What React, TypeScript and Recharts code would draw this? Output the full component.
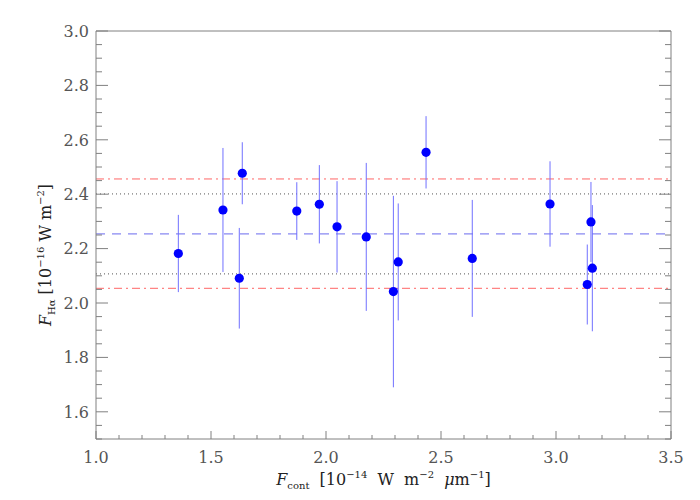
import React from 'react';
import { ScatterChart, Scatter, XAxis, YAxis, ErrorBar, ReferenceLine, Label } from 'recharts';

// continuum flux (x) and H-alpha flux (y) with 1-sigma errors
const fCont = [1.358, 1.552, 1.623, 1.636, 1.873, 1.971, 2.048, 2.175, 2.293, 2.314, 2.435, 2.636, 2.974, 3.152, 3.158, 3.136];
const fHa = [2.182, 2.342, 2.091, 2.477, 2.338, 2.363, 2.28, 2.243, 2.042, 2.151, 2.554, 2.164, 2.364, 2.298, 2.128, 2.068];
const fHaErr = [0.142, 0.228, 0.185, 0.114, 0.106, 0.144, 0.168, 0.272, 0.352, 0.215, 0.133, 0.215, 0.157, 0.147, 0.232, 0.147];

const xMajor = [1.0, 1.5, 2.0, 2.5, 3.0, 3.5];
const yMajor = [1.6, 1.8, 2.0, 2.2, 2.4, 2.6, 2.8, 3.0];
const xDomain = [1.0, 3.5];
const yDomain = [1.5, 3.0];
const xMinorStep = 0.1;
const yMinorStep = 0.05;

const meanLevel = 2.254;
const sigmaLow = 2.107;
const sigmaHigh = 2.401;
const boundLow = 2.054;
const boundHigh = 2.456;

const points = fCont.map((x, i) => ({ x, y: fHa[i], err: fHaErr[i] }));

const makeTicks = (lo: number, hi: number, step: number) => {
  const n = Math.round((hi - lo) / step);
  const out: number[] = [];
  for (let i = 0; i <= n; i++) out.push(+(lo + i * step).toFixed(3));
  return out;
};
const xTicks = makeTicks(xDomain[0], xDomain[1], xMinorStep);
const yTicks = makeTicks(yDomain[0], yDomain[1], yMinorStep);

const isMajor = (v: number, majors: number[]) => majors.some((m) => Math.abs(m - v) < 1e-6);

const AXIS = '#808080';
const SERIF = '"DejaVu Serif", "Liberation Serif", serif';
const GAP = 10;
const RED = '#ff6666';

const AxisTick = (props: any) => {
  const { x, y, payload, side } = props;
  const v = payload.value;
  if (side === 'bottom' || side === 'top') {
    const major = isMajor(v, xMajor);
    const len = major ? 8 : 4;
    const axisY = side === 'bottom' ? y - GAP : y + GAP;
    const dir = side === 'bottom' ? -1 : 1;
    return (
      <g>
        <line x1={x} y1={axisY} x2={x} y2={axisY + dir * len} stroke={AXIS} strokeWidth={1} />
        {side === 'bottom' && major && (
          <text x={x} y={y + 3} dy="0.71em" textAnchor="middle" fontFamily={SERIF} fontSize={16} fill="#555">
            {v.toFixed(1)}
          </text>
        )}
      </g>
    );
  }
  const major = isMajor(v, yMajor);
  const len = major ? 12 : 6;
  const axisX = side === 'left' ? x + 7 : x - GAP;
  const dir = side === 'left' ? 1 : -1;
  return (
    <g>
      <line x1={axisX} y1={y} x2={axisX + dir * len} y2={y} stroke={AXIS} strokeWidth={1} />
      {side === 'left' && major && (
        <text x={x} y={y} dy="0.36em" textAnchor="end" fontFamily={SERIF} fontSize={16} fill="#555">
          {v.toFixed(1)}
        </text>
      )}
    </g>
  );
};

const XTitle = (props: any) => {
  const { x, y, width } = props.viewBox;
  return (
    <text
      x={x + width / 2}
      y={y + 46}
      textAnchor="middle"
      fontFamily={SERIF}
      fontSize={16}
      fill="#222"
      style={{ whiteSpace: 'pre' }}
    >
      <tspan fontStyle="italic">F</tspan>
      <tspan fontSize={10} dy={4}>cont</tspan>
      <tspan dy={-4}>  [10</tspan>
      <tspan fontSize={10} dy={-7}>−14</tspan>
      <tspan dy={7}>  W  m</tspan>
      <tspan fontSize={10} dy={-7}>−2</tspan>
      <tspan dy={7}>  </tspan>
      <tspan fontStyle="italic">μ</tspan>
      <tspan>m</tspan>
      <tspan fontSize={10} dy={-7}>−1</tspan>
      <tspan dy={7}>]</tspan>
    </text>
  );
};

const YTitle = (props: any) => {
  const { x, y, height } = props.viewBox;
  const cx = x + 51;
  const cy = y + height / 2 + 20;
  return (
    <text
      x={cx}
      y={cy}
      transform={`rotate(-90, ${cx}, ${cy})`}
      textAnchor="middle"
      fontFamily={SERIF}
      fontSize={16}
      fill="#222"
      style={{ whiteSpace: 'pre' }}
    >
      <tspan fontStyle="italic">F</tspan>
      <tspan fontSize={10} dy={4}>Hα</tspan>
      <tspan dy={-4}> [10</tspan>
      <tspan fontSize={10} dy={-7}>−16</tspan>
      <tspan dy={7}> W m</tspan>
      <tspan fontSize={10} dy={-7}>−2</tspan>
      <tspan dy={7}>]</tspan>
    </text>
  );
};

export default function App() {
  return (
    <div style={{ position: 'absolute', left: 0, top: 0, width: 700, height: 500, background: '#fff' }}>
      <ScatterChart width={700} height={500} margin={{ top: 0, right: 0, bottom: 0, left: 0 }}>
        <XAxis
          xAxisId="b"
          type="number"
          dataKey="x"
          domain={xDomain}
          ticks={xTicks}
          interval={0}
          height={61}
          tickSize={0}
          tickMargin={GAP}
          axisLine={{ stroke: AXIS }}
          tick={(p: any) => <AxisTick {...p} side="bottom" />}
          allowDataOverflow
        >
          <Label content={<XTitle />} />
        </XAxis>
        <XAxis
          xAxisId="t"
          orientation="top"
          type="number"
          domain={xDomain}
          ticks={xTicks}
          interval={0}
          height={31}
          tickSize={0}
          tickMargin={GAP}
          axisLine={{ stroke: AXIS }}
          tick={(p: any) => <AxisTick {...p} side="top" />}
          allowDataOverflow
        />
        <YAxis
          yAxisId="l"
          type="number"
          dataKey="y"
          domain={yDomain}
          ticks={yTicks}
          interval={0}
          width={96}
          tickSize={0}
          tickMargin={7}
          axisLine={{ stroke: AXIS }}
          tick={(p: any) => <AxisTick {...p} side="left" />}
          allowDataOverflow
        >
          <Label content={<YTitle />} />
        </YAxis>
        <YAxis
          yAxisId="r"
          orientation="right"
          type="number"
          domain={yDomain}
          ticks={yTicks}
          interval={0}
          width={29}
          tickSize={0}
          tickMargin={GAP}
          axisLine={{ stroke: AXIS }}
          tick={(p: any) => <AxisTick {...p} side="right" />}
          allowDataOverflow
        />
        <ReferenceLine xAxisId="b" yAxisId="l" y={boundLow} stroke={RED} strokeDasharray="8 4 2 4" />
        <ReferenceLine xAxisId="b" yAxisId="l" y={sigmaLow} stroke="#555" strokeDasharray="1 3" />
        <ReferenceLine xAxisId="b" yAxisId="l" y={meanLevel} stroke="#6a6aee" strokeDasharray="9 7" />
        <ReferenceLine xAxisId="b" yAxisId="l" y={sigmaHigh} stroke="#555" strokeDasharray="1 3" />
        <ReferenceLine xAxisId="b" yAxisId="l" y={boundHigh} stroke={RED} strokeDasharray="8 4 2 4" />
        <Scatter
          xAxisId="b"
          yAxisId="l"
          data={points}
          isAnimationActive={false}
          shape={(p: any) => <circle cx={p.cx} cy={p.cy} r={4.6} fill="#0000ff" />}
        >
          <ErrorBar dataKey="err" direction="y" width={0} stroke="#7070ff" strokeWidth={1} isAnimationActive={false} />
        </Scatter>
      </ScatterChart>
    </div>
  );
}
